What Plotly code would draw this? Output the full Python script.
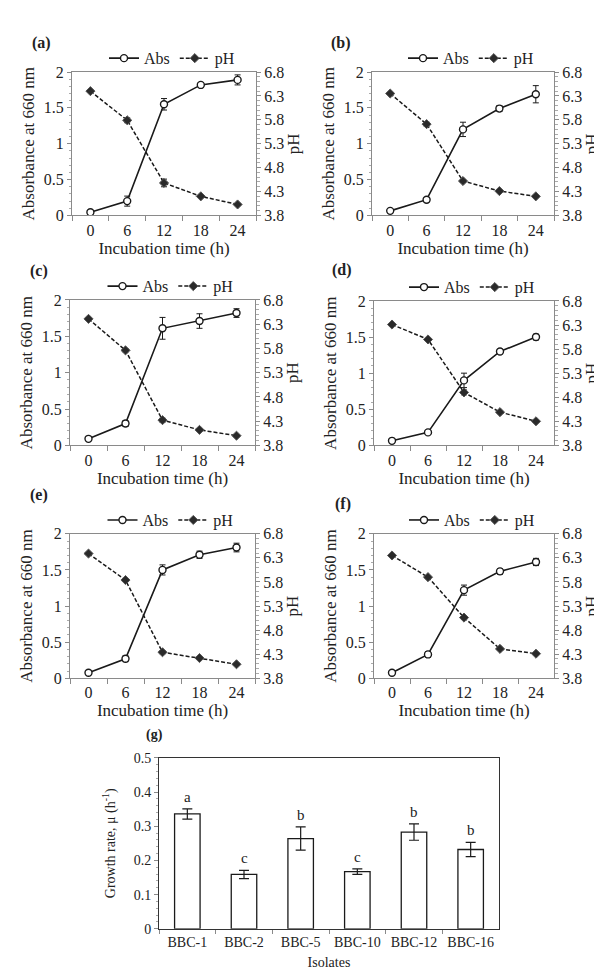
import plotly.graph_objects as go

W, H = 602, 975
FONT = "Liberation Serif, Times New Roman, serif"

hours = ["0", "6", "12", "18", "24"]
panel_labels = ["(a)", "(b)", "(c)", "(d)", "(e)", "(f)"]

abs_a = [0.045, 0.20, 1.55, 1.82, 1.89]
abs_a_err = [0.02, 0.07, 0.08, 0.03, 0.07]
ph_a = [6.40, 5.79, 4.48, 4.20, 4.03]
ph_a_err = [0.02, 0.05, 0.08, 0.02, 0.02]

abs_b = [0.064, 0.22, 1.20, 1.49, 1.69]
abs_b_err = [0.02, 0.03, 0.10, 0.04, 0.12]
ph_b = [6.35, 5.71, 4.52, 4.31, 4.20]
ph_b_err = [0.02, 0.04, 0.03, 0.02, 0.02]

abs_c = [0.09, 0.30, 1.61, 1.71, 1.82]
abs_c_err = [0.02, 0.04, 0.15, 0.10, 0.06]
ph_c = [6.41, 5.76, 4.32, 4.12, 4.00]
ph_c_err = [0.02, 0.03, 0.04, 0.02, 0.02]

abs_d = [0.063, 0.18, 0.90, 1.30, 1.50]
abs_d_err = [0.02, 0.02, 0.10, 0.03, 0.04]
ph_d = [6.31, 6.00, 4.90, 4.49, 4.30]
ph_d_err = [0.02, 0.02, 0.05, 0.02, 0.02]

abs_e = [0.077, 0.27, 1.50, 1.71, 1.81]
abs_e_err = [0.02, 0.04, 0.07, 0.05, 0.06]
ph_e = [6.39, 5.84, 4.34, 4.22, 4.09]
ph_e_err = [0.02, 0.03, 0.03, 0.03, 0.02]

abs_f = [0.077, 0.33, 1.22, 1.48, 1.61]
abs_f_err = [0.02, 0.04, 0.07, 0.04, 0.05]
ph_f = [6.35, 5.90, 5.06, 4.41, 4.31]
ph_f_err = [0.02, 0.02, 0.04, 0.02, 0.02]

abs_sets = [(abs_a, abs_a_err), (abs_b, abs_b_err), (abs_c, abs_c_err),
            (abs_d, abs_d_err), (abs_e, abs_e_err), (abs_f, abs_f_err)]
ph_sets = [(ph_a, ph_a_err), (ph_b, ph_b_err), (ph_c, ph_c_err),
           (ph_d, ph_d_err), (ph_e, ph_e_err), (ph_f, ph_f_err)]

isolates = ["BBC-1", "BBC-2", "BBC-5", "BBC-10", "BBC-12", "BBC-16"]
growth_rate = [0.336, 0.159, 0.264, 0.167, 0.283, 0.232]
growth_err = [0.015, 0.012, 0.034, 0.008, 0.024, 0.021]
growth_letters = ["a", "c", "b", "c", "b", "b"]

# plot-area boxes in pixels: left, right, top, bottom
boxes = [(64, 248, 57, 203), (364, 546, 57, 203),
         (62, 247, 289, 437), (366, 546, 290, 437),
         (62, 247, 527, 674), (366, 546, 527, 674)]
label_pos = [(33, 27), (333, 27), (31, 260), (334, 258), (31, 488), (335, 497)]
box_g = (151, 491, 755, 929)

def dx(l, r):
    return [l / W, r / W]

def dy(t, b):
    return [1 - b / H, 1 - t / H]

def fnt(size):
    return dict(size=size, family=FONT, color="#222")

fig = go.Figure()
layout = dict(width=W, height=H, margin=dict(l=0, r=0, t=0, b=0),
              paper_bgcolor="white", plot_bgcolor="white",
              font=fnt(16), showlegend=True)
annotations = []
FRAME = "#8a8a8a"

for i in range(6):
    k = i + 1
    rk = k + 7
    l, r, t, b = boxes[i]
    xa = "x" if k == 1 else f"x{k}"
    ya = "y" if k == 1 else f"y{k}"
    yr = f"y{rk}"
    leg = "legend" if k == 1 else f"legend{k}"
    av, ae = abs_sets[i]
    pv, pe = ph_sets[i]
    fig.add_trace(go.Scatter(
        x=hours, y=av, name="Abs", xaxis=xa, yaxis=ya, legend=leg,
        mode="lines+markers", line=dict(color="#1a1a1a", width=1.6),
        marker=dict(symbol="circle", size=7, color="white",
                    line=dict(color="#1a1a1a", width=1.4)),
        error_y=dict(type="data", array=ae, color="#1a1a1a", thickness=1, width=3)))
    fig.add_trace(go.Scatter(
        x=hours, y=pv, name="pH", xaxis=xa, yaxis=yr, legend=leg,
        mode="lines+markers", line=dict(color="#1a1a1a", width=1.5, dash="4px,2px"),
        marker=dict(symbol="diamond", size=7, color="#2a2a2a",
                    line=dict(color="#555", width=1)),
        error_y=dict(type="data", array=pe, color="#1a1a1a", thickness=1, width=3)))

    layout[f"xaxis{k}"] = dict(
        domain=dx(l, r), anchor=ya, type="category", tickson="boundaries",
        ticks="outside", ticklen=5, tickcolor=FRAME, showline=True, linecolor=FRAME,
        mirror=True, showgrid=False, tickfont=fnt(16),
        title=dict(text="Incubation time (h)", font=fnt(17), standoff=2),
        range=[-0.5, 4.5])
    layout[f"yaxis{k}"] = dict(
        domain=dy(t, b), anchor=xa, range=[0, 2], dtick=0.5, ticks="outside",
        ticklen=4, tickcolor=FRAME, showline=True, linecolor=FRAME, showgrid=False,
        zeroline=False, tickfont=fnt(16),
        minor=dict(dtick=0.1, ticks="outside", ticklen=2, tickcolor="#aaa"),
        title=dict(text="Absorbance at 660 nm", font=fnt(17), standoff=4))
    layout[f"yaxis{rk}"] = dict(
        overlaying=ya, anchor=xa, side="right", range=[3.8, 6.8], tick0=3.8, dtick=0.5,
        tickformat=".1f", ticks="outside", ticklen=4, tickcolor=FRAME, showline=True,
        linecolor=FRAME, showgrid=False, zeroline=False, tickfont=fnt(16),
        minor=dict(dtick=0.1, ticks="outside", ticklen=3, tickcolor="#aaa"),
        title=dict(text="pH", font=fnt(17), standoff=0))
    layout[leg] = dict(
        orientation="h", x=((l + r) / 2 + 8) / W, xanchor="center",
        y=1 - (t - 14) / H, yanchor="middle", bgcolor="rgba(0,0,0,0)",
        font=fnt(16), itemwidth=30, tracegroupgap=0, traceorder="normal")
    lx, ly = label_pos[i]
    annotations.append(dict(text="<b>" + panel_labels[i] + "</b>", x=lx / W, y=1 - ly / H,
                            xref="paper", yref="paper", showarrow=False,
                            xanchor="center", yanchor="middle", font=fnt(16)))

# panel (g)
l, r, t, b = box_g
fig.add_trace(go.Bar(
    x=isolates, y=growth_rate, xaxis="x7", yaxis="y7", showlegend=False, width=0.45,
    marker=dict(color="white", line=dict(color="#1a1a1a", width=1.3)),
    error_y=dict(type="data", array=growth_err, color="#1a1a1a", thickness=1.2, width=5)))
for name, v, e, letter in zip(isolates, growth_rate, growth_err, growth_letters):
    annotations.append(dict(text=letter, x=name, y=v + e, xref="x7", yref="y7",
                            showarrow=False, yanchor="bottom", yshift=2, font=fnt(15)))
layout["xaxis7"] = dict(
    domain=dx(l, r), anchor="y7", type="category", tickson="boundaries", ticks="outside",
    ticklen=4, tickcolor=FRAME, showline=True, linecolor="#333", mirror=True,
    tickfont=fnt(14), title=dict(text="Isolates", font=fnt(14), standoff=8))
layout["yaxis7"] = dict(
    domain=dy(t, b), anchor="x7", range=[0, 0.5], dtick=0.1, ticks="outside", ticklen=4,
    tickcolor=FRAME, showline=True, linecolor="#333", mirror=True, showgrid=False,
    zeroline=False, tickfont=fnt(14),
    minor=dict(dtick=0.02, ticks="outside", ticklen=2, tickcolor="#aaa"),
    title=dict(text="Growth rate, μ (h<sup>-1</sup>)", font=fnt(14), standoff=14))
annotations.append(dict(text="<b>(g)</b>", x=146 / W, y=1 - 732 / H, xref="paper",
                        yref="paper", showarrow=False, xanchor="center", yanchor="middle",
                        font=fnt(14)))
layout["annotations"] = annotations
fig.update_layout(**layout)
fig.write_html("out.html")
